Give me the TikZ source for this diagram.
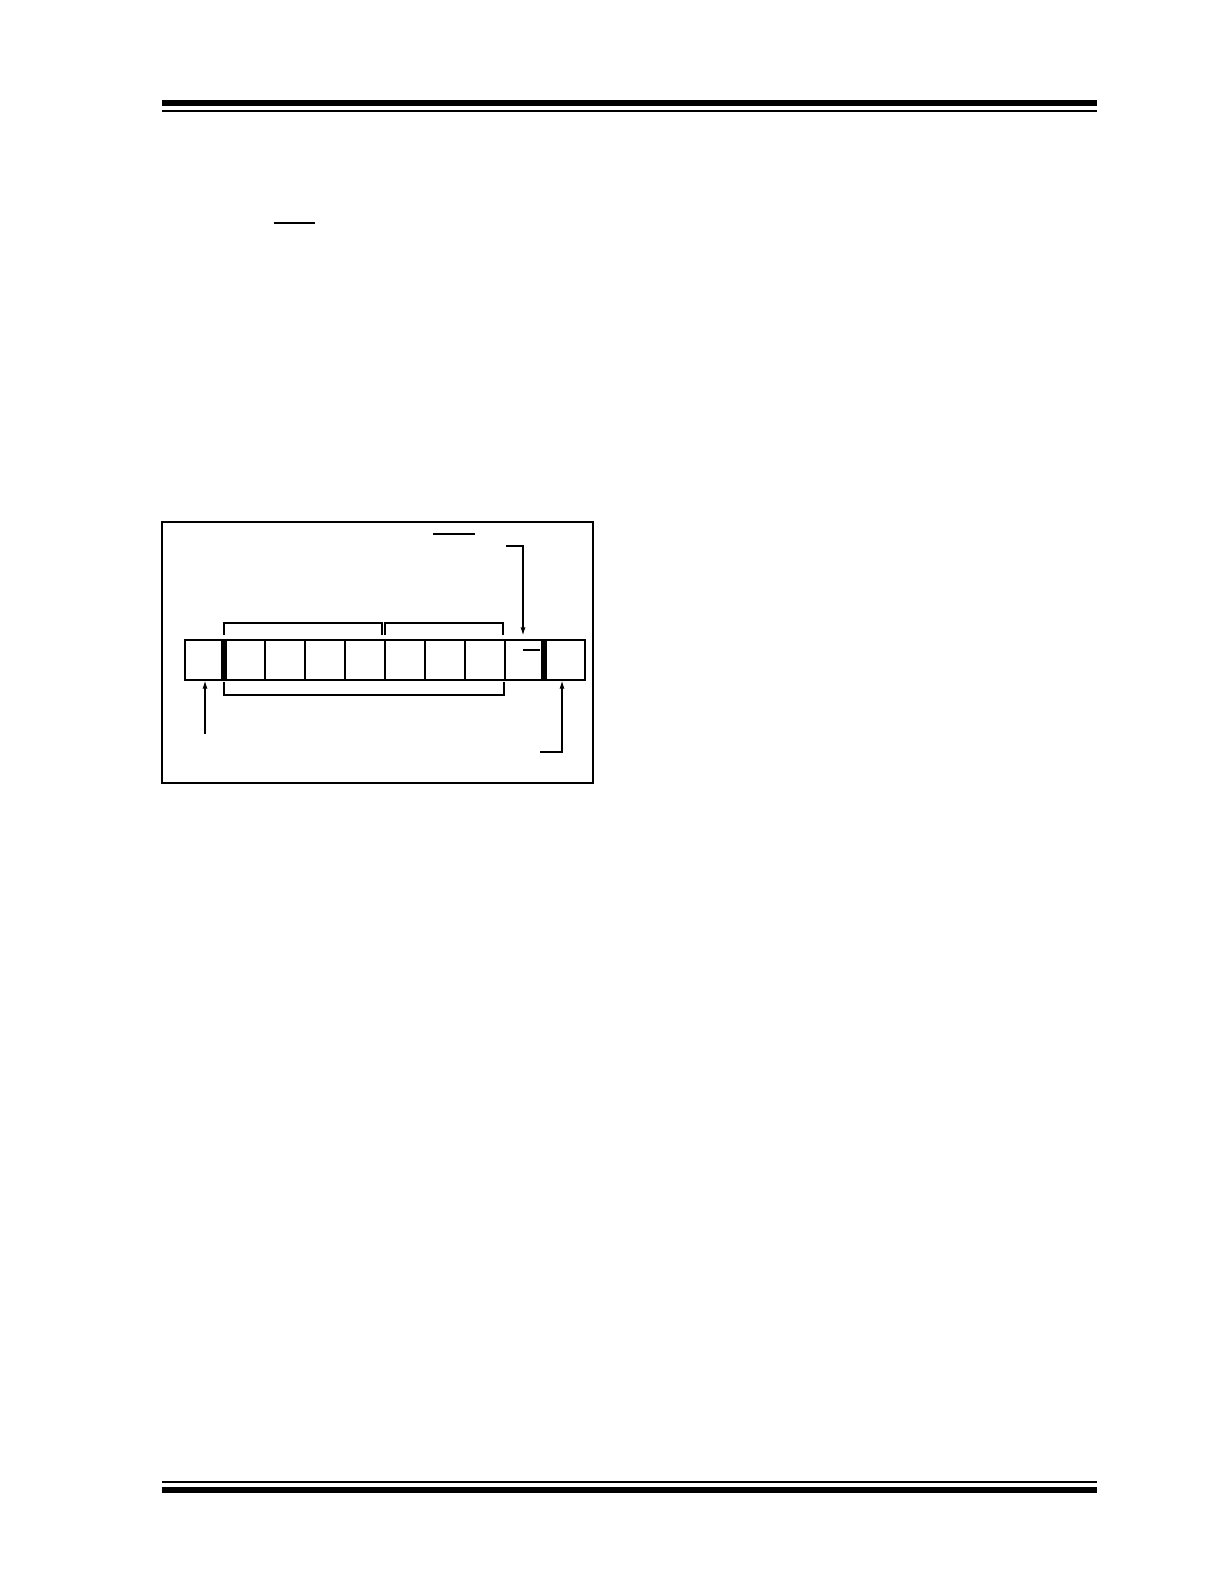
\documentclass[tikz,border=0pt]{standalone}
\usetikzlibrary{arrows.meta}
\begin{document}
\begin{tikzpicture}[x=1pt,y=-1pt]
	\tikzstyle{every node} = [font=\scriptsize];
	\tikzstyle{cell} = [draw, line width=1.2pt, minimum width=40pt, minimum height=40pt, inner sep=0pt];
	\tikzstyle{arr} = [line width=1.2pt, -{Latex[length=8pt,width=5pt]}];
	\useasboundingbox (0,0) rectangle (1224,1584);
	% page rules
	\draw[line width=6pt] (162,103) -- (1097,103);
	\draw[line width=2pt] (162,111) -- (1097,111);
	\draw[line width=2pt] (162,1482) -- (1097,1482);
	\draw[line width=6pt] (162,1490) -- (1097,1490);
	\draw[line width=2pt] (274,223) -- (315,223);
	% figure frame
	\draw[line width=1.3pt] (162,522) rectangle (593,783);
	\draw[line width=1.3pt] (433,534) -- (475,534);
	% cells
	\foreach \i in {1,2,...,10} {
		\node[cell] (c\i) at (165+40*\i,660) {};
	}
	\fill[black] (221,640) rectangle (227,680);
	\fill[black] (541,640) rectangle (547,680);
	\draw[line width=2pt] (523,650) -- (540,650);
	% brackets
	\draw[line width=1.2pt] (224,635) -- (224,623) -- (382,623) -- (382,635);
	\draw[line width=1.2pt] (385,635) -- (385,623) -- (503,623) -- (503,635);
	\draw[line width=1.2pt] (224,682) -- (224,695) -- (504,695) -- (504,682);
	% arrows
	\coordinate (startIn) at (205,734);
	\coordinate (ackIn) at (540,752);
	\coordinate (ackOut) at (506,546);
	\draw[arr] (startIn) -- (c1.south);
	\draw[arr] (ackIn) -| ([xshift=-3pt]c10.south);
	\draw[arr] (ackOut) -| ([xshift=-2pt,yshift=4pt]c9.north);
\end{tikzpicture}
\end{document}
